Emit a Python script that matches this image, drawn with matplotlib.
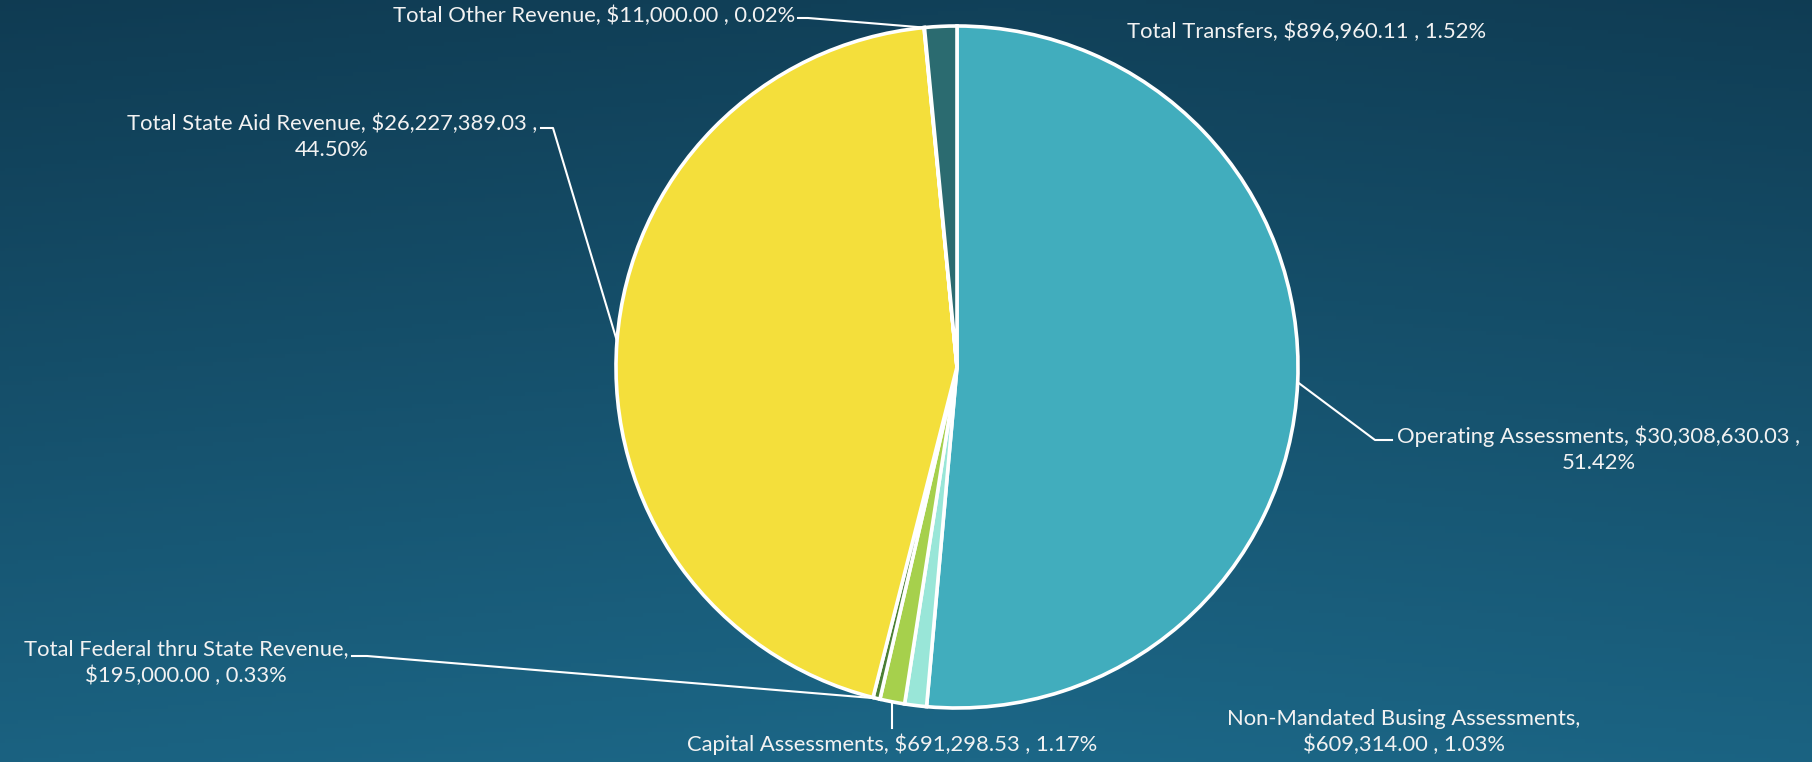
import numpy as np
import matplotlib
matplotlib.use("Agg")
import matplotlib.pyplot as plt
from matplotlib.colors import LinearSegmentedColormap

# ---- data ----
categories = [
    "Operating Assessments",
    "Non-Mandated Busing Assessments",
    "Capital Assessments",
    "Total Federal thru State Revenue",
    "Total State Aid Revenue",
    "Total Other Revenue",
    "Total Transfers",
]
values = [30308630.03, 609314.00, 691298.53, 195000.00, 26227389.03, 11000.00, 896960.11]
percents = [51.42, 1.03, 1.17, 0.33, 44.50, 0.02, 1.52]
colors = ["#41adbd", "#99e6d8", "#a6d04c", "#4b7f35", "#f4df3b", "#8fc0a0", "#2b6b70"]

W, H = 1812, 762
fig = plt.figure(figsize=(W / 100, H / 100), dpi=100)
ax = fig.add_axes([0, 0, 1, 1])

cx, cy, R = 957, H - 367, 341
wedges, _ = ax.pie(values, colors=colors, startangle=90, counterclock=False,
                   center=(cx, cy), radius=R, frame=True,
                   wedgeprops=dict(edgecolor="white", linewidth=2.6))

# background gradient (row 0 = top of figure)
yy, xx = np.mgrid[0:1:200j, 0:1:400j]
t = 0.85 * yy + 0.15 * (1 - np.abs(xx - 0.55) * 1.4)
cmap = LinearSegmentedColormap.from_list("bg", ["#0f3a51", "#1c6787"])
ax.imshow(t, cmap=cmap, extent=[0, W, 0, H], aspect="auto", zorder=-10,
          origin="upper", vmin=0, vmax=1.0)

ax.set_xlim(0, W)
ax.set_ylim(0, H)
ax.set_aspect("equal")
ax.axis("off")

def edge_pt(w, frac=1.0):
    ang = np.deg2rad((w.theta1 + w.theta2) / 2)
    return cx + R * frac * np.cos(ang), cy + R * frac * np.sin(ang)

def lab(i):
    return f"{categories[i]}, ${values[i]:,.2f} , {percents[i]:.2f}%"

tc = "#f2f2f2"
fs = 15.8
font = dict(color=tc, fontsize=fs, family="Lato", zorder=5)
lc = dict(color="white", lw=1.5, zorder=4)

# Operating Assessments
ex, ey = edge_pt(wedges[0])
ax.plot([ex, 1375, 1392], [ey, H - 440, H - 440], **lc)
ax.text(1397, H - 449, f"{categories[0]}, ${values[0]:,.2f} ,\n{percents[0]:.2f}%",
        ha="left", va="center", multialignment="center", linespacing=1.4, **font)

# Non-Mandated Busing
ax.text(1404, H - 732, f"{categories[1]},\n${values[1]:,.2f} , {percents[1]:.2f}%",
        ha="center", va="center", multialignment="center", linespacing=1.4, **font)

# Capital
ex, ey = edge_pt(wedges[2])
ax.plot([ex, ex], [ey, H - 728], **lc)
ax.text(ex, H - 744, lab(2), ha="center", va="center", **font)

# Federal
ex, ey = edge_pt(wedges[3])
ax.plot([352, 367, ex], [H - 656, H - 656, ey], **lc)
ax.text(348, H - 663, f"{categories[3]},\n${values[3]:,.2f} , {percents[3]:.2f}%",
        ha="right", va="center", multialignment="center", linespacing=1.4, **font)

# State Aid
ex, ey = edge_pt(wedges[4])
ax.plot([541, 553, ex], [H - 128, H - 128, ey], **lc)
ax.text(537, H - 137, f"{categories[4]}, ${values[4]:,.2f} ,\n{percents[4]:.2f}%",
        ha="right", va="center", multialignment="center", linespacing=1.4, **font)

# Other
ex, ey = edge_pt(wedges[5])
ax.plot([798, 808, ex], [H - 18, H - 18, ey], **lc)
ax.text(795, H - 16, lab(5), ha="right", va="center", **font)

# Transfers
ax.text(1127, H - 32, lab(6), ha="left", va="center", **font)

fig.savefig("out.png", dpi=100)
